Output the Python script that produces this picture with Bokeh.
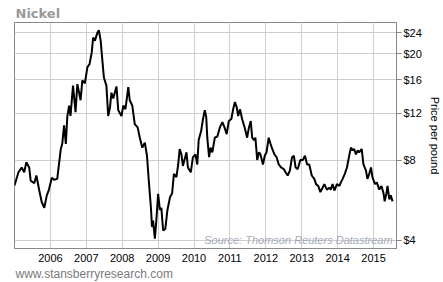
from bokeh.plotting import figure
from bokeh.models import FixedTicker, NumeralTickFormatter, Range1d, Label, Title
from bokeh.embed import file_html
from bokeh.resources import INLINE

title_text = "Nickel"
source_text = "Source: Thomson Reuters Datastream"
footer_text = "www.stansberryresearch.com"
y_label = "Price per pound"

year_ticks = [2006, 2007, 2008, 2009, 2010, 2011, 2012, 2013, 2014, 2015]
price_ticks = [4, 8, 12, 16, 20, 24]

years = [
    2005.00, 2005.11, 2005.20, 2005.27, 2005.33, 2005.41, 2005.45, 2005.55, 2005.61, 2005.69,
    2005.76, 2005.83, 2005.90, 2005.96,
    2006.04, 2006.10, 2006.19, 2006.24, 2006.29, 2006.33, 2006.38, 2006.43, 2006.47, 2006.52,
    2006.56, 2006.63, 2006.70, 2006.75, 2006.80, 2006.84, 2006.89, 2006.96,
    2007.03, 2007.09, 2007.15, 2007.19, 2007.24, 2007.31, 2007.35, 2007.40, 2007.44, 2007.49,
    2007.56, 2007.61, 2007.66, 2007.70, 2007.75, 2007.84, 2007.89, 2007.98,
    2008.03, 2008.09, 2008.17, 2008.21, 2008.28, 2008.35, 2008.43, 2008.49, 2008.56, 2008.63,
    2008.69, 2008.74, 2008.80, 2008.83, 2008.86, 2008.91, 2008.95,
    2009.00, 2009.05, 2009.09, 2009.14, 2009.20, 2009.26, 2009.33, 2009.39, 2009.44, 2009.51,
    2009.56, 2009.60, 2009.65, 2009.69, 2009.79, 2009.83, 2009.91, 2009.97,
    2010.04, 2010.09, 2010.13, 2010.20, 2010.25, 2010.30, 2010.34, 2010.37, 2010.42, 2010.46,
    2010.51, 2010.58, 2010.65, 2010.72, 2010.79, 2010.85, 2010.91, 2010.97,
    2011.04, 2011.09, 2011.14, 2011.19, 2011.23, 2011.28, 2011.34, 2011.41, 2011.48, 2011.53,
    2011.58, 2011.62, 2011.67, 2011.71, 2011.76, 2011.81, 2011.85, 2011.92, 2011.97,
    2012.02, 2012.08, 2012.13, 2012.18, 2012.24, 2012.30, 2012.36, 2012.43, 2012.50, 2012.55,
    2012.61, 2012.67, 2012.73, 2012.78, 2012.83, 2012.89, 2012.96,
    2013.03, 2013.09, 2013.15, 2013.21, 2013.28, 2013.35, 2013.40, 2013.46, 2013.52, 2013.58,
    2013.63, 2013.70, 2013.77, 2013.81, 2013.86, 2013.91, 2013.98,
    2014.05, 2014.09, 2014.14, 2014.20, 2014.26, 2014.33, 2014.37, 2014.42, 2014.46, 2014.51,
    2014.56, 2014.60, 2014.67, 2014.72, 2014.79, 2014.83, 2014.88, 2014.93, 2014.97,
    2015.04, 2015.09, 2015.16, 2015.22, 2015.28, 2015.31, 2015.36, 2015.39, 2015.44, 2015.48,
    2015.53,
]

prices = [
    6.42, 7.2, 7.5, 7.2, 7.85, 7.5, 6.7, 6.55, 7.0, 6.15,
    5.56, 5.3, 5.9, 6.2,
    6.86, 6.75, 6.8, 7.74, 8.8, 9.2, 10.8, 9.2, 11.6, 12.8,
    11.7, 15.2, 12.1, 15.4, 14.3, 13.4, 15.9, 15.5,
    17.8, 18.3, 20.2, 23.0, 22.4, 24.0, 24.5, 22.4, 19.4, 16.3,
    15.2, 11.7, 12.6, 14.3, 13.6, 15.1, 12.3, 11.7,
    12.8, 12.4, 15.0, 13.4, 12.8, 10.9, 10.6, 9.7, 8.9, 9.3,
    8.3, 6.7, 5.3, 4.49, 4.74, 4.06, 4.74,
    5.98, 5.2, 5.3, 4.36, 4.42, 5.2, 5.8, 6.0, 7.1, 6.9,
    7.7, 8.8, 8.4, 7.6, 8.55, 7.5, 7.2, 8.2,
    8.4, 7.7, 9.5, 10.3, 11.4, 12.3, 11.6, 9.7, 8.2, 8.9,
    8.55, 9.7, 9.8, 10.6, 11.1, 10.6, 10.0, 11.2,
    11.4, 12.4, 13.2, 12.6, 11.7, 12.4, 11.4, 10.6, 9.7, 10.6,
    11.2, 9.7, 9.5, 9.7, 8.0, 8.55, 8.4, 7.7, 8.3,
    8.55, 9.7, 9.2, 8.8, 8.4, 8.2, 7.7, 7.5, 7.4, 7.2,
    7.0, 7.3, 8.2, 8.3, 7.5, 7.4, 8.0,
    8.0, 8.3, 7.7, 7.7, 7.0, 6.8, 6.5, 6.4, 6.07, 6.3,
    6.5, 6.2, 6.3, 6.2, 6.5, 6.15, 6.5,
    6.4, 6.6, 6.8, 7.1, 7.5, 8.4, 8.9, 8.7, 8.8, 8.4,
    8.7, 8.55, 8.8, 7.7, 7.3, 6.8, 7.1, 7.5, 6.9,
    6.5, 6.6, 6.2, 6.4, 6.0, 5.6, 6.0, 6.4, 5.7, 5.9,
    5.6,
]

FONT = "Liberation Sans"

p = figure(width=443, height=282, output_backend="svg", toolbar_location=None,
           y_axis_type="log", y_axis_location="right",
           x_range=Range1d(2005.0, 2015.64), y_range=Range1d(3.73, 26.2),
           min_border_left=14, min_border_right=46, min_border_top=22, min_border_bottom=34)

p.background_fill_color = "white"
p.border_fill_color = "white"
p.outline_line_color = "#888888"
p.outline_line_width = 1

# title (top-left) and footer (bottom-left)
p.title = Title(text=title_text, align="left", vertical_align="top", standoff=0,
                offset=1, text_font="DejaVu Sans", text_font_size="13px",
                text_font_style="bold", text_color="#999999")
footer = Title(text=footer_text, align="left", standoff=0, offset=1,
               text_font=FONT, text_font_size="12px", text_font_style="normal",
               text_color="#7a7a7a")
p.add_layout(footer, "below")

# grids
p.xgrid.ticker = FixedTicker(ticks=year_ticks)
p.ygrid.ticker = FixedTicker(ticks=price_ticks)
p.xgrid.grid_line_color = "#cfcfcf"
p.ygrid.grid_line_color = "#cfcfcf"
p.xgrid.grid_line_width = 1
p.ygrid.grid_line_width = 1

# x axis
xa = p.xaxis[0]
xa.ticker = FixedTicker(ticks=year_ticks)
xa.major_tick_out = 0
xa.major_tick_in = 0
xa.minor_tick_out = 0
xa.minor_tick_in = 0
xa.axis_line_color = "#888888"
xa.major_label_text_font = FONT
xa.major_label_text_font_size = "11px"
xa.major_label_text_color = "#000000"
xa.major_label_standoff = 5

# y axis (right)
ya = p.yaxis[0]
ya.ticker = FixedTicker(ticks=price_ticks)
ya.formatter = NumeralTickFormatter(format="$0")
ya.major_tick_out = 5
ya.major_tick_in = 0
ya.minor_tick_out = 0
ya.minor_tick_in = 0
ya.major_tick_line_color = "#888888"
ya.axis_line_color = "#888888"
ya.major_label_text_font = FONT
ya.major_label_text_font_size = "11px"
ya.major_label_text_color = "#000000"
ya.major_label_standoff = 2
ya.axis_label = y_label
ya.axis_label_text_font = FONT
ya.axis_label_text_font_size = "11px"
ya.axis_label_text_font_style = "normal"
ya.axis_label_text_color = "#000000"
ya.axis_label_standoff = 4

p.line(years, prices, line_color="#000000", line_width=2)

src = Label(x=2015.53, y=4.0, text=source_text, text_align="right", text_baseline="middle",
            text_font=FONT, text_font_size="11px", text_font_style="italic",
            text_color="#a3abb8")
p.add_layout(src)

open("out.html", "w").write(file_html(p, INLINE))
